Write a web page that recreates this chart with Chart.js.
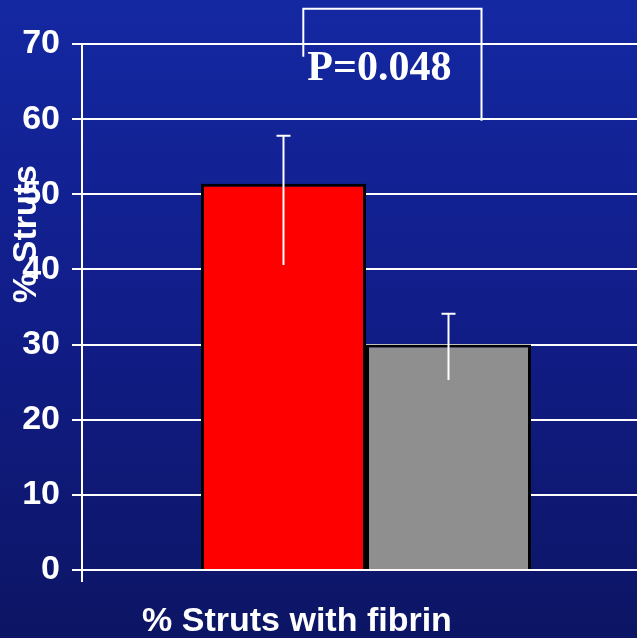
<!DOCTYPE html>
<html>
<head>
<meta charset="utf-8">
<script src="https://cdn.jsdelivr.net/npm/chart.js@4/dist/chart.umd.min.js"></script>
<style>
  html, body { margin: 0; padding: 0; overflow: hidden; background: #101c80; }
  #wrap { width: 650px; height: 638px; }
</style>
</head>
<body>
<div id="wrap"><canvas id="c" width="650" height="638"></canvas></div>
<script>
// Chart values
const categories = ['% Struts with fibrin'];
const seriesNames = ['Group 1', 'Group 2'];
const meanValues = [51.4, 30.0];
const errorLow = [40.6, 25.3];
const errorHigh = [57.8, 34.1];
const yTicks = [0, 10, 20, 30, 40, 50, 60, 70];
const yTitle = '% Struts';
const xTitle = '% Struts with fibrin';
const pValueLabel = 'P=0.048';
// significance bracket: left end, top, right end (axis units)
const bracketLevels = [68.3, 74.7, 59.8];

const barColors = ['#ff0000', '#8f8f8f'];
const sansBold = 'bold 34px "Liberation Sans", Arial, sans-serif';

const backgroundPlugin = {
  id: 'gradientBackground',
  beforeDraw(chart) {
    const { ctx, width, height } = chart;
    const g = ctx.createLinearGradient(0, 0, 0, height);
    g.addColorStop(0, '#1428a2');
    g.addColorStop(0.5, '#111d88');
    g.addColorStop(1, '#0c1564');
    ctx.save();
    ctx.fillStyle = g;
    ctx.fillRect(0, 0, width, height);
    ctx.restore();
  }
};

const annotationPlugin = {
  id: 'annotations',
  afterDatasetsDraw(chart) {
    const { ctx } = chart;
    const y = chart.scales.y;
    const bars = [chart.getDatasetMeta(0).data[0], chart.getDatasetMeta(1).data[0]];
    ctx.save();
    ctx.strokeStyle = '#ffffff';
    ctx.lineWidth = 2;

    // error bars with a cap on the upper end
    bars.forEach((bar, i) => {
      const x = bar.x;
      const yLo = y.getPixelForValue(errorLow[i]);
      const yHi = y.getPixelForValue(errorHigh[i]);
      ctx.beginPath();
      ctx.moveTo(x, yLo);
      ctx.lineTo(x, yHi);
      ctx.moveTo(x - 7, yHi);
      ctx.lineTo(x + 7, yHi);
      ctx.stroke();
    });

    // significance bracket
    const xl = bars[0].x + 0.12 * bars[0].width;
    const xr = bars[1].x + 0.2 * bars[1].width;
    const yTop = y.getPixelForValue(bracketLevels[1]);
    ctx.beginPath();
    ctx.moveTo(xl, y.getPixelForValue(bracketLevels[0]));
    ctx.lineTo(xl, yTop);
    ctx.lineTo(xr, yTop);
    ctx.lineTo(xr, y.getPixelForValue(bracketLevels[2]));
    ctx.stroke();

    ctx.fillStyle = '#ffffff';
    ctx.font = 'bold 42px "Liberation Serif", "Times New Roman", serif';
    ctx.textAlign = 'left';
    ctx.textBaseline = 'alphabetic';
    ctx.fillText(pValueLabel, xl + 4, yTop + 71);

    // axis titles
    ctx.font = sansBold;
    ctx.textAlign = 'center';
    ctx.textBaseline = 'middle';
    ctx.fillText(xTitle, 297, 622);
    ctx.translate(27, 234);
    ctx.rotate(-Math.PI / 2);
    ctx.fillText(yTitle, 0, 0);
    ctx.restore();
  }
};

new Chart(document.getElementById('c'), {
  type: 'bar',
  data: {
    labels: categories,
    datasets: seriesNames.map((name, i) => ({
      label: name,
      data: [meanValues[i]],
      backgroundColor: barColors[i],
      borderColor: '#000000',
      borderWidth: 3,
      barPercentage: 1.0,
      categoryPercentage: 0.581
    }))
  },
  options: {
    responsive: false,
    devicePixelRatio: 1,
    animation: false,
    layout: { padding: { top: 44, right: 0, bottom: 0, left: 0 } },
    plugins: {
      legend: { display: false },
      tooltip: { enabled: false }
    },
    scales: {
      x: {
        type: 'category',
        offset: true,
        grid: {
          display: true,
          offset: true,
          drawOnChartArea: false,
          color: '#ffffff',
          lineWidth: 2,
          tickLength: 12
        },
        border: { display: false },
        ticks: { display: false },
        afterFit(scale) { scale.height = 68; }
      },
      y: {
        min: 0,
        max: 70,
        afterBuildTicks(scale) { scale.ticks = yTicks.map(v => ({ value: v })); },
        ticks: {
          color: '#ffffff',
          font: { family: '"Liberation Sans", Arial, sans-serif', size: 34, weight: 'bold' },
          padding: 12
        },
        grid: { color: '#ffffff', lineWidth: 2, tickLength: 10 },
        border: { display: true, color: '#ffffff', width: 2 },
        afterFit(scale) { scale.width = 82; }
      }
    }
  },
  plugins: [backgroundPlugin, annotationPlugin]
});
</script>
</body>
</html>
